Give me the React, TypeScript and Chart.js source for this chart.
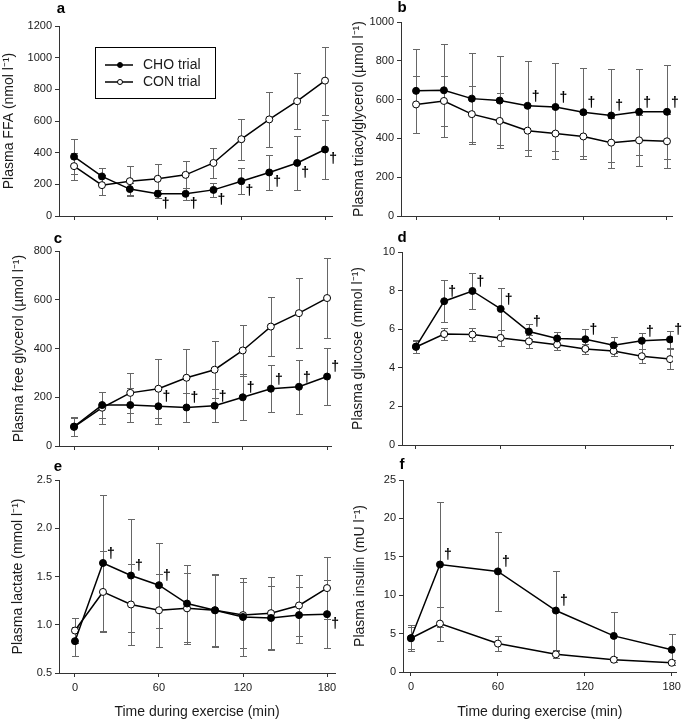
import React, { useEffect, useRef } from "react";
import { Chart, registerables } from "chart.js";

Chart.register(...registerables);

const FONT = '"Liberation Sans", Arial, Helvetica, sans-serif';
Chart.defaults.font.family = FONT;

// ---- data ----
const times = [0, 20, 40, 60, 80, 100, 120, 140, 160, 180];
const insulinTimes = [0, 20, 60, 100, 140, 180];
const xTickValues = [0, 60, 120, 180];
const seriesLabels = ["CHO trial", "CON trial"];
const xAxisTitle = "Time during exercise (min)";

const ffaCHO = [375, 250, 170, 140, 140, 165, 220, 275, 335, 420];
const ffaCHOErr = [110, 55, 40, 25, 38, 45, 82, 113, 168, 185];
const ffaCON = [315, 195, 220, 235, 260, 335, 485, 610, 725, 855];
const ffaCONErr = [85, 65, 95, 95, 85, 95, 130, 173, 178, 215];
const ffaDaggers = [60, 80, 100, 120, 140, 160, 180];

const tgCHO = [645, 648, 605, 595, 568, 562, 535, 518, 537, 537];
const tgCHOErr = [217, 240, 233, 231, 229, 228, 228, 239, 220, 243];
const tgCON = [575, 593, 525, 490, 440, 425, 410, 378, 390, 385];
const tgCONErr = [147, 129, 145, 142, 130, 133, 115, 128, 132, 140];
const tgDaggers = [80, 100, 120, 140, 160, 180];

const glyCHO = [80, 168, 168, 163, 158, 165, 200, 235, 243, 285];
const glyCHOErr = [38, 55, 68, 73, 60, 67, 95, 97, 110, 118];
const glyCON = [78, 157, 218, 235, 280, 313, 392, 490, 545, 607];
const glyCONErr = [37, 65, 82, 120, 120, 117, 106, 120, 143, 163];
const glyDaggers = [60, 80, 100, 120, 140, 160, 180];

const gluCHO = [5.1, 7.45, 7.98, 7.05, 5.88, 5.52, 5.48, 5.17, 5.4, 5.47];
const gluCHOErr = [0.35, 1.1, 0.92, 1.07, 0.4, 0.36, 0.52, 0.41, 0.4, 0.45];
const gluCON = [5.08, 5.75, 5.72, 5.55, 5.37, 5.2, 4.98, 4.87, 4.6, 4.45];
const gluCONErr = [0.3, 0.33, 0.35, 0.4, 0.35, 0.27, 0.25, 0.28, 0.35, 0.5];
const gluDaggers = [20, 40, 60, 80, 120, 160, 180];

const lacCHO = [0.83, 1.64, 1.51, 1.41, 1.22, 1.15, 1.08, 1.07, 1.1, 1.11];
const lacCHOErr = [0.15, 0.7, 0.59, 0.44, 0.4, 0.37, 0.4, 0.33, 0.29, 0.35];
const lacCON = [0.94, 1.34, 1.21, 1.15, 1.17, 1.15, 1.1, 1.12, 1.2, 1.38];
const lacCONErr = [0.13, 0.42, 0.42, 0.38, 0.37, 0.38, 0.34, 0.37, 0.32, 0.32];
const lacDaggers = [20, 40, 60, 180];
const lacDaggersBelow = [180];

const insCHO = [4.4, 14.0, 13.1, 8.0, 4.7, 2.9];
const insCHOErr = [1.4, 8.1, 5.1, 5.1, 3.1, 2.0];
const insCON = [4.4, 6.3, 3.7, 2.3, 1.6, 1.2];
const insCONErr = [1.7, 2.2, 1.0, 0.45, 0.3, 0.3];
const insDaggers = [20, 60, 100];

// ---- panel configs ----
type Panel = {
  letter: string;
  letterPos: [number, number];
  x: number[];
  cho: number[];
  choErr: number[];
  con: number[];
  conErr: number[];
  daggers: number[];
  daggersBelow: number[];
  yMin: number;
  yMax: number;
  yStep: number;
  decimals: number;
  yTitle: string;
  yTitleX: number;
  xLabels: boolean;
  legend: boolean;
  box: { left: number; top: number; width: number; height: number };
  area: { left: number; top: number; right: number; bottom: number };
  xMin: number;
  xMax: number;
};

const panels: Panel[] = [
  {
    letter: "a", letterPos: [61, 9], x: times,
    cho: ffaCHO, choErr: ffaCHOErr, con: ffaCON, conErr: ffaCONErr,
    daggers: ffaDaggers, daggersBelow: ffaDaggers,
    yMin: 0, yMax: 1200, yStep: 200, decimals: 0,
    yTitle: "Plasma FFA (nmol l\u207B\u00B9)", yTitleX: 9.5,
    xLabels: false, legend: true,
    box: { left: 0, top: 0, width: 345, height: 230 },
    area: { left: 59, top: 26, right: 332, bottom: 216 },
    xMin: -10.8, xMax: 185,
  },
  {
    letter: "b", letterPos: [402, 8], x: times,
    cho: tgCHO, choErr: tgCHOErr, con: tgCON, conErr: tgCONErr,
    daggers: tgDaggers, daggersBelow: [],
    yMin: 0, yMax: 1000, yStep: 200, decimals: 0,
    yTitle: "Plasma triacylglycerol (\u00B5mol l\u207B\u00B9)", yTitleX: 359,
    xLabels: false, legend: false,
    box: { left: 345, top: 0, width: 340, height: 230 },
    area: { left: 401, top: 22, right: 672, bottom: 216 },
    xMin: -10.8, xMax: 183.6,
  },
  {
    letter: "c", letterPos: [58, 239], x: times,
    cho: glyCHO, choErr: glyCHOErr, con: glyCON, conErr: glyCONErr,
    daggers: glyDaggers, daggersBelow: [],
    yMin: 0, yMax: 800, yStep: 200, decimals: 0,
    yTitle: "Plasma free glycerol (\u00B5mol l\u207B\u00B9)", yTitleX: 19.5,
    xLabels: false, legend: false,
    box: { left: 0, top: 230, width: 345, height: 228 },
    area: { left: 59, top: 251, right: 331, bottom: 446 },
    xMin: -10.7, xMax: 182.8,
  },
  {
    letter: "d", letterPos: [402, 238], x: times,
    cho: gluCHO, choErr: gluCHOErr, con: gluCON, conErr: gluCONErr,
    daggers: gluDaggers, daggersBelow: [],
    yMin: 0, yMax: 10, yStep: 2, decimals: 0,
    yTitle: "Plasma glucose (mmol l\u207B\u00B9)", yTitleX: 358,
    xLabels: false, legend: false,
    box: { left: 345, top: 230, width: 340, height: 228 },
    area: { left: 402, top: 252, right: 673, bottom: 445 },
    xMin: -9.9, xMax: 182.1,
  },
  {
    letter: "e", letterPos: [58, 467], x: times,
    cho: lacCHO, choErr: lacCHOErr, con: lacCON, conErr: lacCONErr,
    daggers: lacDaggers, daggersBelow: lacDaggersBelow,
    yMin: 0.5, yMax: 2.5, yStep: 0.5, decimals: 1,
    yTitle: "Plasma lactate (mmol l\u207B\u00B9)", yTitleX: 18.5,
    xLabels: true, legend: false,
    box: { left: 0, top: 458, width: 345, height: 261 },
    area: { left: 59, top: 480, right: 335, bottom: 673 },
    xMin: -11.4, xMax: 185.7,
  },
  {
    letter: "f", letterPos: [402, 465], x: insulinTimes,
    cho: insCHO, choErr: insCHOErr, con: insCON, conErr: insCONErr,
    daggers: insDaggers, daggersBelow: [],
    yMin: 0, yMax: 25, yStep: 5, decimals: 0,
    yTitle: "Plasma insulin (mU l\u207B\u00B9)", yTitleX: 360,
    xLabels: true, legend: false,
    box: { left: 345, top: 458, width: 340, height: 261 },
    area: { left: 403, top: 480, right: 680, bottom: 672 },
    xMin: -5.5, xMax: 183.4,
  },
];

const AXIS = "#333";
const TEXT = "#1a1a1a";

const errorBarPlugin = {
  id: "errorBars",
  beforeDatasetsDraw(chart: any) {
    const { ctx, scales } = chart;
    const xs = scales.x, ys = scales.y;
    ctx.save();
    ctx.strokeStyle = "#666";
    ctx.lineWidth = 1;
    chart.data.datasets.forEach((ds: any) => {
      ds.data.forEach((pt: any, i: number) => {
        const e = ds.errors[i];
        const px = Math.round(xs.getPixelForValue(pt.x)) + 0.5;
        const y1 = Math.round(ys.getPixelForValue(pt.y + e)) + 0.5;
        const y2 = Math.round(ys.getPixelForValue(pt.y - e)) + 0.5;
        ctx.beginPath();
        ctx.moveTo(px, y1);
        ctx.lineTo(px, y2);
        ctx.moveTo(px - 3.5, y1);
        ctx.lineTo(px + 3.5, y1);
        ctx.moveTo(px - 3.5, y2);
        ctx.lineTo(px + 3.5, y2);
        ctx.stroke();
      });
    });
    ctx.restore();
  },
};

function makeAnnotPlugin(p: Panel) {
  return {
    id: "annot",
    afterDraw(chart: any) {
      const { ctx, scales } = chart;
      const xs = scales.x, ys = scales.y;
      const ox = p.box.left, oy = p.box.top;
      ctx.save();
      // panel letter
      ctx.fillStyle = "#000";
      ctx.font = `bold 15px ${FONT}`;
      ctx.textAlign = "center";
      ctx.textBaseline = "middle";
      ctx.fillText(p.letter, p.letterPos[0] - ox, p.letterPos[1] - oy);
      // daggers
      ctx.font = `bold 14px ${FONT}`;
      p.daggers.forEach((t) => {
        const i = p.x.indexOf(t);
        const px = xs.getPixelForValue(t);
        const py = ys.getPixelForValue(p.cho[i]);
        const below = p.daggersBelow.includes(t);
        ctx.fillText("\u2020", px + 8, below ? py + 10 : py - 9);
      });
      // legend
      if (p.legend) {
        const bx = 95.5 - ox, by = 47.5 - oy, bw = 120, bh = 51;
        ctx.strokeStyle = "#000";
        ctx.lineWidth = 1;
        ctx.strokeRect(bx, by, bw, bh);
        const rows = [65, 82];
        ctx.font = `14px ${FONT}`;
        ctx.textAlign = "left";
        rows.forEach((ry, k) => {
          const yy = ry - oy;
          ctx.beginPath();
          ctx.lineWidth = 1.5;
          ctx.moveTo(105 - ox, yy);
          ctx.lineTo(133 - ox, yy);
          ctx.stroke();
          ctx.beginPath();
          ctx.lineWidth = 1;
          ctx.arc(120 - ox, yy, 2.5, 0, Math.PI * 2);
          ctx.fillStyle = k === 0 ? "#000" : "#fff";
          ctx.fill();
          ctx.stroke();
          ctx.fillStyle = TEXT;
          ctx.fillText(seriesLabels[k], 143 - ox, yy + 0.5);
        });
      }
      ctx.restore();
    },
  };
}

function PanelChart({ p }: { p: Panel }) {
  const ref = useRef<HTMLCanvasElement>(null);
  useEffect(() => {
    const canvas = ref.current;
    if (!canvas) return;
    const yWidth = p.area.left - p.box.left;
    const xHeight = p.box.top + p.box.height - p.area.bottom;
    const chart = new Chart(canvas, {
      type: "line",
      data: {
        datasets: [
          {
            label: seriesLabels[0],
            data: p.x.map((t, i) => ({ x: t, y: p.cho[i] })),
            errors: p.choErr,
            borderColor: "#000",
            backgroundColor: "#000",
            pointBackgroundColor: "#000",
            pointBorderColor: "#000",
            pointRadius: 3.5,
            pointBorderWidth: 1,
            borderWidth: 1.5,
            tension: 0,
          } as any,
          {
            label: seriesLabels[1],
            data: p.x.map((t, i) => ({ x: t, y: p.con[i] })),
            errors: p.conErr,
            borderColor: "#000",
            backgroundColor: "#fff",
            pointBackgroundColor: "#fff",
            pointBorderColor: "#000",
            pointRadius: 3.5,
            pointBorderWidth: 1,
            borderWidth: 1.5,
            tension: 0,
          } as any,
        ],
      },
      options: {
        responsive: false,
        animation: false,
        devicePixelRatio: 1,
        events: [],
        layout: {
          padding: {
            left: 0,
            top: p.area.top - p.box.top,
            right: p.box.left + p.box.width - p.area.right,
            bottom: 0,
          },
        },
        plugins: { legend: { display: false }, tooltip: { enabled: false } },
        scales: {
          x: {
            type: "linear",
            min: p.xMin,
            max: p.xMax,
            afterFit: (s: any) => {
              s.height = xHeight;
            },
            afterBuildTicks: (s: any) => {
              s.ticks = xTickValues.map((v) => ({ value: v }));
            },
            grid: { drawOnChartArea: false, tickLength: 4, color: AXIS, lineWidth: 1 },
            border: { display: true, color: AXIS, width: 1 },
            ticks: {
              display: p.xLabels,
              color: TEXT,
              font: { size: 11 },
              padding: 4,
              maxRotation: 0,
              autoSkip: false,
              callback: (v: any) => String(v),
            },
            title: {
              display: p.xLabels,
              text: xAxisTitle,
              color: TEXT,
              font: { size: 14, lineHeight: 1 },
              padding: { top: 0, bottom: 0 },
            },
          },
          y: {
            type: "linear",
            min: p.yMin,
            max: p.yMax,
            afterFit: (s: any) => {
              s.width = yWidth;
            },
            grid: { drawOnChartArea: false, tickLength: 4, color: AXIS, lineWidth: 1 },
            border: { display: true, color: AXIS, width: 1 },
            ticks: {
              stepSize: p.yStep,
              color: TEXT,
              font: { size: 11 },
              padding: 3,
              callback: (v: any) => Number(v).toFixed(p.decimals),
            },
            title: {
              display: true,
              text: p.yTitle,
              color: TEXT,
              font: { size: 14, lineHeight: 1 },
              padding: { top: p.yTitleX - p.box.left - 7, bottom: 0 },
            },
          },
        },
      } as any,
      plugins: [errorBarPlugin, makeAnnotPlugin(p)],
    });
    return () => chart.destroy();
  }, [p]);
  return (
    <canvas
      ref={ref}
      width={p.box.width}
      height={p.box.height}
      style={{
        position: "absolute",
        left: p.box.left,
        top: p.box.top,
        width: p.box.width,
        height: p.box.height,
      }}
    />
  );
}

export default function App() {
  return (
    <div
      style={{
        position: "absolute",
        left: 0,
        top: 0,
        width: 685,
        height: 719,
        background: "#fff",
        overflow: "hidden",
      }}
    >
      {panels.map((p) => (
        <PanelChart key={p.letter} p={p} />
      ))}
    </div>
  );
}
